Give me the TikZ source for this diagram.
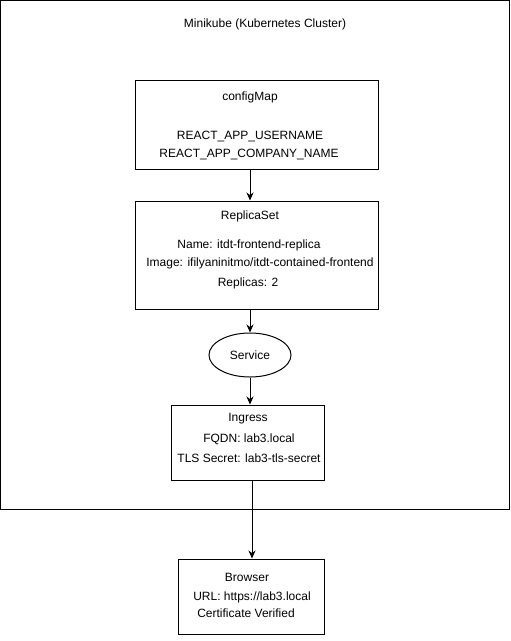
\documentclass[tikz,border=0pt]{standalone}
\usepackage{fontspec}
\setmainfont{Liberation Sans}
\usetikzlibrary{arrows.meta,shapes.geometric}
\tikzset{
    box/.style={draw,line width=1pt,inner sep=0pt},
    lbl/.style={inner sep=0pt,font=\fontsize{12}{14}\selectfont},
    flow/.style={line width=1pt,-{Stealth[length=8pt,width=7pt]}}
}

\begin{document}
\begin{tikzpicture}[x=1pt,y=-1pt]
    \useasboundingbox (0,0) rectangle (511,641);
    \node[box,minimum width=509pt,minimum height=509pt] (cluster) at (255,255) {};
    \node[lbl] (title) at (265,24) {Minikube (Kubernetes Cluster)};

    \node[box,minimum width=243pt,minimum height=89pt] (cfg) at (256.5,124.5) {};
    \node[lbl] (cfgname) at (250,97) {configMap};
    \node[lbl] (cfguser) at (250,136) {REACT\_APP\_USERNAME};
    \node[lbl] (cfgcomp) at (249,154) {REACT\_APP\_COMPANY\_NAME};

    \node[box,minimum width=243pt,minimum height=108pt] (rs) at (256.5,255) {};
    \node[lbl] (rsname) at (250,216) {ReplicaSet};
    \node[lbl] (rsapp) at (249,245) {Name: itdt-frontend-replica};
    \node[lbl] (rsimg) at (260,263) {Image: ifilyaninitmo/itdt-contained-frontend};
    \node[lbl] (rsnum) at (248,283) {Replicas: 2};

    \node[draw,ellipse,line width=1pt,minimum width=82pt,minimum height=44pt,
          lbl] (svc) at (250,355) {Service};

    \node[box,minimum width=153pt,minimum height=75pt] (ing) at (247.5,442.5) {};
    \node[lbl] (ingname) at (248,419) {Ingress};
    \node[lbl] (ingfqdn) at (249,439) {FQDN: lab3.local};
    \node[lbl] (ingtls) at (249,458) {TLS Secret: lab3-tls-secret};

    \node[box,minimum width=146pt,minimum height=75pt] (web) at (251,596.5) {};
    \node[lbl] (webname) at (247,577) {Browser};
    \node[lbl] (weburl) at (252,597) {URL: https://lab3.local};
    \node[lbl] (webcert) at (246,613) {Certificate Verified};

    \draw[flow] (cfg.south -| 250,0) -- (rs.north -| 250,0);
    \draw[flow] (rs.south -| 250,0) -- (svc.north);
    \draw[flow] (svc.south) -- (ing.north -| 250,0);
    \draw[flow] (ing.south -| 252,0) -- (web.north -| 252,0);
\end{tikzpicture}
\end{document}
